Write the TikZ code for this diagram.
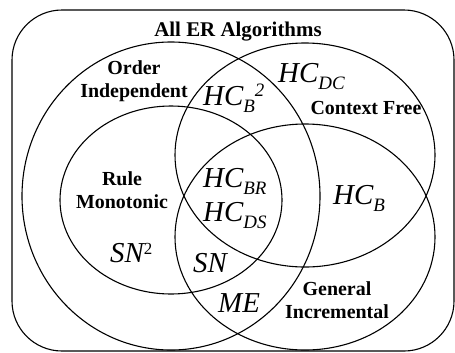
\documentclass[tikz,border=0pt]{standalone}
\usepackage{fontspec}
\setmainfont{Liberation Serif}
\usepackage{tikz}

\newcommand{\lo}[1]{\raisebox{-7bp}{\fontsize{19}{19}\selectfont #1}}
\newcommand{\hi}[1]{\raisebox{9bp}{\fontsize{19}{19}\selectfont #1}}

\tikzset{
  set/.style={line width=1.1bp},
  lbl/.style={font=\fontsize{20}{22}\selectfont\bfseries, anchor=base, inner sep=0pt},
  alg/.style={font=\fontsize{29}{29}\selectfont\itshape, anchor=base west, inner sep=0pt}
}

\begin{document}
\begin{tikzpicture}[x=1bp,y=-1bp]
\useasboundingbox (0,0) rectangle (455,352);
\draw[set, rounded corners=50bp] (12,10) rectangle (454,351); % all algorithms
\draw[set] (171,196) ellipse [x radius=149, y radius=154]; % order independent
\draw[set] (171,200) ellipse [x radius=111, y radius=94]; % rule monotonic
\draw[set] (305,155) ellipse [x radius=130, y radius=112]; % context free
\draw[set] (305,237) ellipse [x radius=130, y radius=113]; % general incremental
\node[lbl, font=\fontsize{21}{23}\selectfont\bfseries] (all) at (238,36) {All ER Algorithms};
\node[lbl] (oi1) at (134,74) {Order};
\node[lbl] (oi2) at (134,97) {Independent};
\node[lbl] (cf) at (366,114) {Context Free};
\node[lbl] (rm1) at (122,185) {Rule};
\node[lbl] (rm2) at (122,208) {Monotonic};
\node[lbl] (gi1) at (337,295) {General};
\node[lbl] (gi2) at (337,318) {Incremental};
\node[alg] (hcb2) at (203,105) {HC\lo{B}\hi{2}};
\node[alg] (hcdc) at (278,82) {HC\lo{DC}};
\node[alg] (hcbr) at (203,187) {HC\lo{BR}};
\node[alg] (hcds) at (203,221) {HC\lo{DS}};
\node[alg] (hcb) at (333,204) {HC\lo{B}};
\node[alg] (sn2) at (110,262) {SN\raisebox{8bp}{\fontsize{17}{17}\selectfont\upshape 2}};
\node[alg] (sn) at (193,272) {SN};
\node[alg] (me) at (218,312) {ME};
\end{tikzpicture}
\end{document}
